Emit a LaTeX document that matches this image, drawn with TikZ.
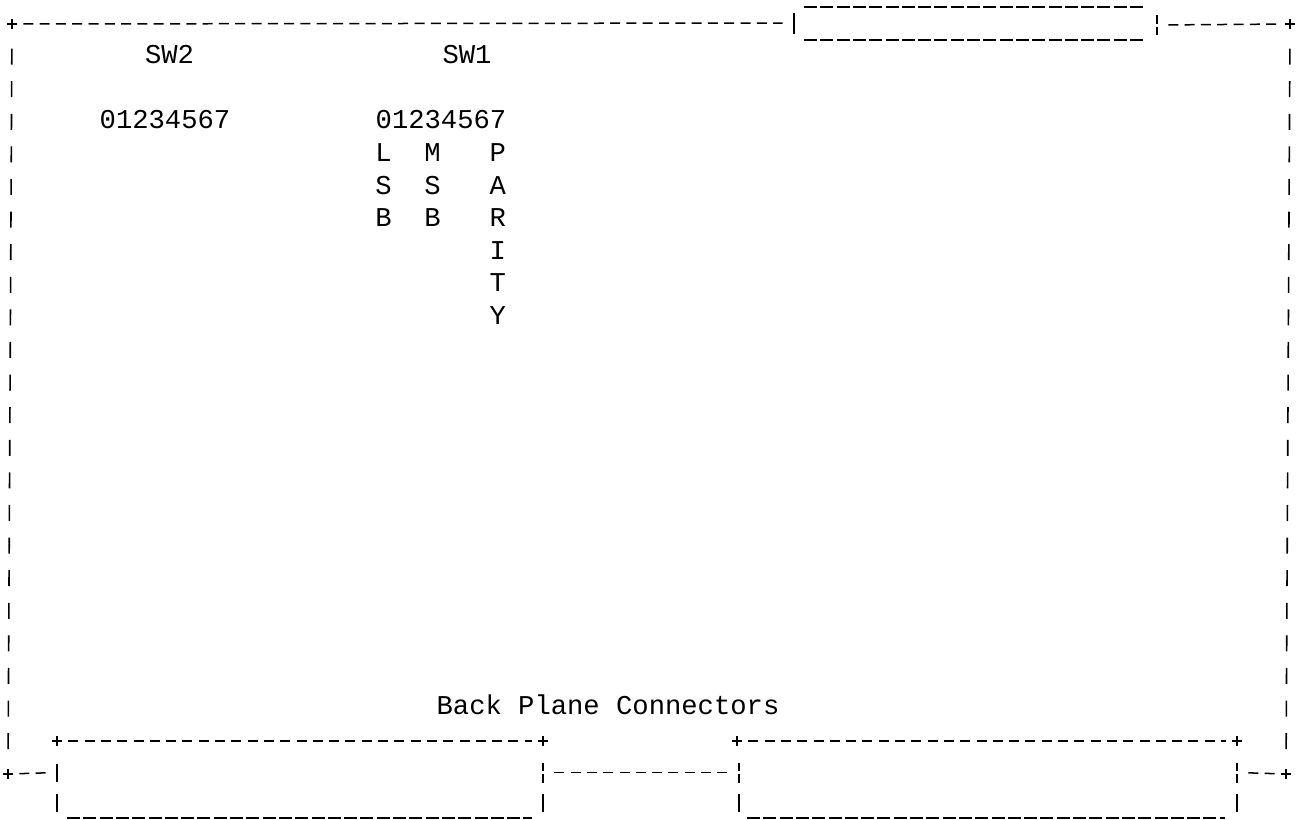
\documentclass[tikz,border=0pt]{standalone}
\usepackage{fontspec}
\newfontfamily\termfont{Liberation Mono}

\begin{document}
\begin{tikzpicture}[
    x=1pt, y=-1pt,
    txt/.style={font=\termfont\fontsize{27.2}{32.6}\selectfont, inner sep=0pt, anchor=base},
    crossmark/.style={inner sep=0pt, minimum size=10pt, path picture={
        \draw[line width=1.5pt] (path picture bounding box.north) -- (path picture bounding box.south)
            (path picture bounding box.west) -- (path picture bounding box.east);}},
    barmark/.style={fill=black, inner sep=0pt, minimum width=1.7pt, minimum height=18pt},
    brokenbar/.style={inner sep=0pt, minimum width=1.8pt, minimum height=20pt, path picture={
        \draw[line width=1.8pt, dash pattern=on 8.5pt off 3pt] (path picture bounding box.north) -- (path picture bounding box.south);}},
    hdash/.style={line width=1.5pt, dash pattern=on 10pt off 6.3pt, shorten <=11.3pt, shorten >=11.3pt},
    uscore/.style={line width=1.5pt, dash pattern=on 13pt off 3.3pt},
    vrule/.style={line width=1.6pt, dash pattern=on 16pt off 16.6pt, shorten <=24.6pt, shorten >=24.6pt}
]
    \useasboundingbox (0,0) rectangle (1298,819);

    % outer frame corners
    \node[crossmark] (tl) at (12,24) {};
    \node[crossmark] (tr) at (1290,24) {};
    \node[crossmark] (bl) at (8,774) {};
    \node[crossmark] (br) at (1286,774) {};

    % top connector slot
    \node[barmark, minimum height=21pt] (slotl) at (794,23) {};
    \node[brokenbar] (slotr) at (1157,25) {};
    \coordinate (slotnw) at (804,7);
    \coordinate (slotne) at (1145,7);
    \coordinate (slotsw) at (804,40);
    \coordinate (slotse) at (1145,40);

    \draw[hdash] (tl.center) -- (slotl.center);
    \draw[hdash] (slotr.center) -- (tr.center);
    \draw[uscore] (slotnw) -- (slotne);
    \draw[uscore] (slotsw) -- (slotse);

    % side edges
    \draw[vrule] (tl.center) -- (bl.center);
    \draw[vrule] (tr.center) -- (br.center);

    % switches
    \node[txt] (sw2) at (169.5,63.6) {SW2};
    \node[txt] (sw1) at (467,63.6) {SW1};
    \node[txt, anchor=base west] (bits2) at (99.5,128.8) {01234567};
    \node[txt, anchor=base west] (bits1) at (375.5,128.8) {01234567};
    \foreach \ch [count=\i from 0] in {L,S,B}
        \node[txt] (lsb\i) at (383.6,161.4+32.6*\i) {\ch};
    \foreach \ch [count=\i from 0] in {M,S,B}
        \node[txt] (msb\i) at (432.5,161.4+32.6*\i) {\ch};
    \foreach \ch [count=\i from 0] in {P,A,R,I,T,Y}
        \node[txt] (par\i) at (497.8,161.4+32.6*\i) {\ch};

    % back plane connectors
    \node[txt] (bpc) at (608,714) {Back Plane Connectors};

    \node[crossmark] (lconnw) at (57,741.2) {};
    \node[crossmark] (lconne) at (543,741.2) {};
    \node[crossmark] (rconnw) at (737,741.2) {};
    \node[crossmark] (rconne) at (1237,741.2) {};

    \node[barmark] (lconl1) at (57,772.5) {};
    \node[barmark] (lconl2) at (57,803) {};
    \node[brokenbar] (lconr1) at (543,772.5) {};
    \node[barmark] (lconr2) at (543,803) {};
    \node[brokenbar] (rconl1) at (739,772.5) {};
    \node[barmark] (rconl2) at (739,803) {};
    \node[brokenbar] (rconr1) at (1237,772.5) {};
    \node[barmark] (rconr2) at (1237,803) {};

    \coordinate (lconsw) at (67,818);
    \coordinate (lconse) at (532,818);
    \coordinate (rconsw) at (747,818);
    \coordinate (rconse) at (1225,818);

    \draw[hdash] (lconnw.center) -- (lconne.center);
    \draw[hdash] (rconnw.center) -- (rconne.center);
    \draw[hdash] (bl.center) -- (lconl1.center);
    \draw[hdash] (lconr1.center) -- (rconl1.center);
    \draw[hdash] (rconr1.center) -- (br.center);
    \draw[uscore] (lconsw) -- (lconse);
    \draw[uscore] (rconsw) -- (rconse);
\end{tikzpicture}
\end{document}
